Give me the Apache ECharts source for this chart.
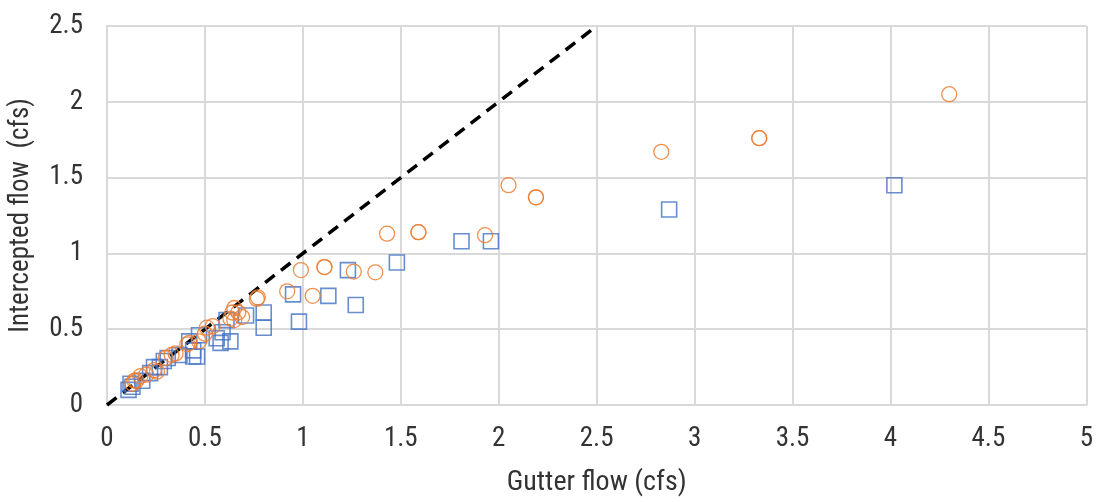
<!DOCTYPE html>
<html><head><meta charset="utf-8">
<script src="https://cdn.jsdelivr.net/npm/echarts@6/dist/echarts.min.js"></script>
<style>html,body{margin:0;padding:0;background:#fff}#c{width:1096px;height:502px}</style>
</head><body><div id="c"></div>
<script>
// Orange circles: [gutter flow, intercepted flow]
const seriesA = [
  [4.30,2.05],[3.33,1.76],[3.33,1.76],[2.83,1.67],[2.05,1.45],[2.19,1.37],[2.19,1.37],
  [1.59,1.14],[1.59,1.14],[1.43,1.13],[1.93,1.12],[0.99,0.89],[1.11,0.91],[1.11,0.91],
  [1.26,0.88],[1.37,0.875],[0.92,0.75],[1.05,0.72],[0.77,0.71],[0.765,0.70],
  [0.65,0.64],[0.67,0.61],[0.69,0.58],[0.64,0.61],[0.65,0.56],[0.63,0.57],
  [0.54,0.52],[0.51,0.51],[0.50,0.47],[0.47,0.42],[0.42,0.41],[0.41,0.40],
  [0.35,0.34],[0.33,0.33],[0.30,0.31],[0.255,0.22],[0.24,0.23],[0.20,0.20],
  [0.17,0.19],[0.15,0.16],[0.14,0.16],[0.13,0.14]
];
// Blue squares
const seriesB = [
  [4.02,1.45],[2.87,1.29],[1.81,1.08],[1.96,1.08],[1.48,0.94],[1.23,0.89],
  [0.95,0.73],[1.13,0.72],[1.27,0.66],[0.98,0.55],[0.80,0.61],[0.80,0.51],
  [0.71,0.59],[0.61,0.56],[0.59,0.48],[0.63,0.42],[0.56,0.44],[0.58,0.41],
  [0.47,0.46],[0.42,0.42],[0.46,0.32],[0.44,0.36],[0.44,0.32],[0.37,0.33],
  [0.31,0.31],[0.29,0.29],[0.27,0.25],[0.24,0.25],[0.22,0.21],[0.18,0.16],
  [0.12,0.14],[0.11,0.10],[0.13,0.12]
];
// 1:1 reference line
const lineRef = [[0,0],[2.5,2.5]];
const xTicks = [0,0.5,1,1.5,2,2.5,3,3.5,4,4.5,5];
const yTicks = [0,0.5,1,1.5,2,2.5];

const font = "'Roboto Condensed','Liberation Sans Narrow','Liberation Sans',sans-serif";
const txt = '#333333';
const chart = echarts.init(document.getElementById('c'));
chart.setOption({
  animation:false,
  backgroundColor:'#fff',
  grid:{left:107,right:8,top:26,bottom:90,containLabel:false},
  xAxis:{type:'value',min:xTicks[0],max:xTicks[xTicks.length-1],interval:0.5,
    name:'Gutter flow (cfs)',nameLocation:'middle',nameGap:64,
    nameTextStyle:{fontFamily:font,fontSize:28,color:txt},
    axisLine:{show:true,lineStyle:{color:'#d9d9d9',width:2}},
    axisTick:{show:false},
    axisLabel:{fontFamily:font,fontSize:27,color:txt,margin:21},
    splitLine:{show:true,lineStyle:{color:'#d9d9d9',width:2}}},
  yAxis:{type:'value',min:yTicks[0],max:yTicks[yTicks.length-1],interval:0.5,
    name:'Intercepted flow  (cfs)',nameLocation:'middle',nameGap:72,
    nameTextStyle:{fontFamily:font,fontSize:27,color:txt},
    axisLine:{show:true,lineStyle:{color:'#d9d9d9',width:2}},
    axisTick:{show:false},
    axisLabel:{fontFamily:font,fontSize:27,color:txt,margin:24},
    splitLine:{show:true,lineStyle:{color:'#d9d9d9',width:2}}},
  series:[
    {type:'line',data:lineRef,symbol:'none',z:1,
      lineStyle:{color:'#000',width:3.5,type:[12,8]}},
    {type:'scatter',data:seriesB,symbol:'rect',symbolSize:15,z:3,
      itemStyle:{color:'rgba(0,0,0,0)',borderColor:'#4472C4',borderWidth:1.6}},
    {type:'scatter',data:seriesA,symbol:'circle',symbolSize:15,z:4,
      itemStyle:{color:'rgba(0,0,0,0)',borderColor:'#ED7D31',borderWidth:1.3,opacity:0.85}}
  ]
});
</script></body></html>
